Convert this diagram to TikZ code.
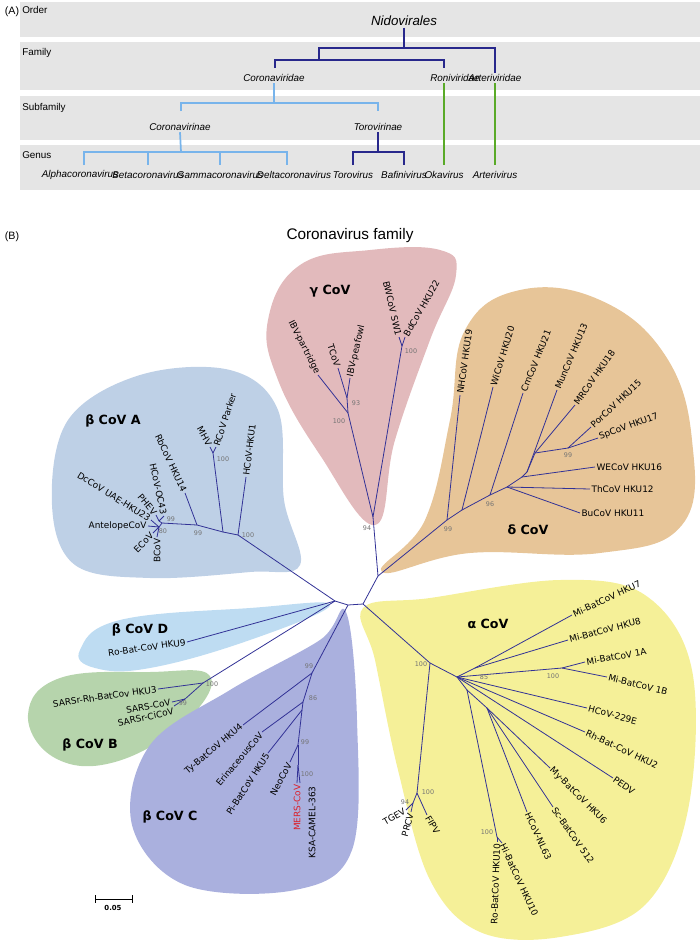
\documentclass[tikz,border=0pt]{standalone}
\usepackage{fontspec}
\usetikzlibrary{calc}
\setmainfont{Liberation Sans}
\newfontfamily\dvs{DejaVu Sans}
\begin{document}
\begin{tikzpicture}[x=0.75pt,y=-0.75pt,
 band/.style={fill=black!10,draw=none},
 dk/.style={draw={rgb,255:red,40;green,40;blue,140},line width=1.3pt},
 lb/.style={draw={rgb,255:red,120;green,180;blue,235},line width=1.3pt},
 gr/.style={draw={rgb,255:red,90;green,170;blue,40},line width=1.3pt},
 ta/.style={font=\fontsize{7.4}{8}\selectfont\itshape,inner sep=1pt},
 row/.style={font=\fontsize{7.4}{8}\selectfont,anchor=west,inner sep=0pt},
 br/.style={draw={rgb,255:red,50;green,50;blue,150},line width=0.6pt},
 lab/.style={font=\dvs\fontsize{6.7}{7}\selectfont,inner sep=1pt},
 bs/.style={font=\dvs\fontsize{4.8}{5}\selectfont,text=black!55,inner sep=0pt},
 cl/.style={font=\dvs\bfseries\fontsize{9.5}{10}\selectfont}]
\useasboundingbox (0,0) rectangle (700,947);
% ---------- (A)
\fill[band] (20,2) rectangle (700,37);
\fill[band] (20,42) rectangle (700,90);
\fill[band] (20,96) rectangle (700,140);
\fill[band] (20,145) rectangle (700,190);
\node[font=\fontsize{8}{9}\selectfont] (lA) at (12,12) {(A)};
\node[row] (rO) at (22,10) {Order};
\node[row] (rF) at (22,53) {Family};
\node[row] (rS) at (22,108) {Subfamily};
\node[row] (rG) at (22,155) {Genus};
\node[ta,font=\fontsize{10}{11}\selectfont\itshape] (nido) at (404,21) {Nidovirales};
\node[ta] (corid) at (274,78) {Coronaviridae};
\node[ta] (ronid) at (455,78) {Roniviridae};
\node[ta] (artid) at (495,78) {Arteriviridae};
\node[ta] (corin) at (180,127) {Coronavirinae};
\node[ta] (torin) at (378,127) {Torovirinae};
\node[ta] (alpha) at (80,175) {Alphacoronavirus};
\node[ta] (beta) at (148,175) {Betacoronavirus};
\node[ta] (gamma) at (220,175) {Gammacoronavirus};
\node[ta] (delta) at (294,175) {Deltacoronavirus};
\node[ta] (toro) at (353,175) {Torovirus};
\node[ta] (bafi) at (404,175) {Bafinivirus};
\node[ta] (oka) at (444,175) {Okavirus};
\node[ta] (arte) at (495,175) {Arterivirus};
\draw[dk] (nido.south) -- (404,48);
\draw[dk] (artid.north) -- (495,48) -- (319,48) -- (319,60);
\draw[dk] (275,68) -- (275,60) -- (444,60) -- (444,68);
\draw[lb] (corid.south) -- (274,103);
\draw[lb] (181,111) -- (181,103) -- (378,103) -- (378,111);
\draw[lb] (corin.south) -- (181,152);
\draw[lb] (84,165) -- (84,152) -- (287,152) -- (287,165);
\draw[lb] (148,152) -- (148,165); \draw[lb] (220,152) -- (220,165);
\draw[dk] (torin.south) -- (378,152);
\draw[dk] (353,165) -- (353,152) -- (404,152) -- (404,165);
\draw[gr] (ronid.south -| 444,0) -- (444,165);
\draw[gr] (artid.south) -- (495,165);
% ---------- (B)
\node[font=\fontsize{8}{9}\selectfont] (lB) at (12,237) {(B)};
\node[font=\fontsize{11.5}{12}\selectfont] (title) at (350,236) {Coronavirus family};
% blobs
\fill[fill={rgb,255:red,226;green,186;blue,188}] plot[smooth cycle,tension=0.7] coordinates {(375,525) (320,455) (278,380) (268,320) (300,265) (370,250) (440,250) (456,275) (430,340) (395,440)};
\fill[fill={rgb,255:red,231;green,197;blue,152}] plot[smooth cycle,tension=0.7] coordinates {(382,572) (425,520) (450,420) (465,330) (520,290) (600,300) (665,355) (692,440) (682,525) (600,553) (470,553)};
\fill[fill={rgb,255:red,190;green,208;blue,230}] plot[smooth cycle,tension=0.6] coordinates {(52,505) (68,420) (140,375) (230,370) (278,410) (284,500) (300,565) (250,572) (150,578) (75,565)};
\fill[fill={rgb,255:red,190;green,220;blue,242}] plot[smooth cycle,tension=0.7] coordinates {(80,650) (120,620) (250,608) (330,605) (250,640) (150,668) (95,668)};
\fill[fill={rgb,255:red,182;green,212;blue,172}] plot[smooth cycle,tension=0.7] coordinates {(28,715) (60,678) (150,672) (210,676) (185,722) (115,762) (55,758)};
\fill[fill={rgb,255:red,170;green,176;blue,222}] plot[smooth cycle,tension=0.6] coordinates {(346,612) (357,720) (352,850) (295,890) (185,885) (132,825) (150,745) (230,690) (320,640)};
\fill[fill={rgb,255:red,245;green,240;blue,152}] plot[smooth cycle,tension=0.6] coordinates {(363,608) (430,598) (560,580) (645,595) (692,670) (688,810) (645,905) (560,937) (480,932) (430,880) (398,770) (375,660)};
% tree coordinates
\coordinate (r1) at (335,601); \coordinate (r2) at (348,605); \coordinate (r3) at (363,604); \coordinate (gd) at (378,576);
\coordinate (g94) at (373,517); \coordinate (gA) at (348,413); \coordinate (g93) at (347,398); \coordinate (gP) at (318,375);
\coordinate (gT) at (338,368); \coordinate (gQ) at (350,378); \coordinate (gB) at (402,346); \coordinate (gBW) at (399,337); \coordinate (gBd) at (405,337);
\coordinate (d99) at (447,520); \coordinate (dNH) at (460,395); \coordinate (d2) at (462,510); \coordinate (dWi) at (493,387);
\coordinate (d96) at (490,495); \coordinate (dCm) at (523,393); \coordinate (d4) at (507,487); \coordinate (dBu) at (580,513);
\coordinate (dTh) at (590,489); \coordinate (d5) at (522,477); \coordinate (dWE) at (595,467); \coordinate (d6) at (527,472);
\coordinate (dMun) at (557,390); \coordinate (d7) at (535,453); \coordinate (dMR) at (575,405); \coordinate (d8) at (568,448);
\coordinate (dPor) at (591,427); \coordinate (dSp) at (598,438);
\coordinate (a1) at (238,535); \coordinate (aH) at (246,477); \coordinate (a2) at (223,532); \coordinate (a3) at (213,453);
\coordinate (aMHV) at (210,447); \coordinate (aRC) at (216,447); \coordinate (a99) at (197,525); \coordinate (aRb) at (185,493);
\coordinate (a4) at (162,523); \coordinate (a5) at (159,521); \coordinate (aPH) at (156,515); \coordinate (aOC) at (164,516);
\coordinate (a80) at (159,527); \coordinate (aDc) at (151,520); \coordinate (aAn) at (148,526); \coordinate (aE) at (153,533); \coordinate (aB) at (157,537);
\coordinate (bD) at (187,642); \coordinate (bb1) at (203,683); \coordinate (bH3) at (158,689); \coordinate (b99) at (185,699);
\coordinate (bS) at (172,702); \coordinate (bC) at (174,706);
\coordinate (c99) at (312,673); \coordinate (cTy) at (243,725); \coordinate (c86) at (303,702); \coordinate (cEr) at (262,732);
\coordinate (c3) at (302,710); \coordinate (cPi) at (268,753); \coordinate (c4) at (298,745); \coordinate (cNeo) at (290,762);
\coordinate (c5) at (298,765); \coordinate (cM) at (297,783); \coordinate (cK) at (300,783); \coordinate (cKt) at (312,785);
\coordinate (l1) at (430,663); \coordinate (lN) at (417,793); \coordinate (lF) at (427,815); \coordinate (l94) at (413,803);
\coordinate (lTG) at (406,810); \coordinate (lPR) at (411,812); \coordinate (l85) at (457,677); \coordinate (lm) at (475,668);
\coordinate (l7) at (572,615); \coordinate (l8) at (568,640); \coordinate (l1x) at (562,668); \coordinate (l1A) at (585,662);
\coordinate (l1B) at (607,677); \coordinate (l229) at (587,708); \coordinate (lRh) at (585,732); \coordinate (lPE) at (613,778);
\coordinate (lj) at (467,690); \coordinate (lk) at (487,708); \coordinate (lMy) at (550,768); \coordinate (lSc) at (553,807);
\coordinate (lNL) at (527,812); \coordinate (lR) at (497,837); \coordinate (lRo) at (497,842); \coordinate (lHi) at (502,843);
\foreach \u/\v in {r1/r2,r2/r3,r3/gd,gd/g94,g94/gA,gA/gP,gA/g93,g93/gT,g93/gQ,g94/gB,gB/gBW,gB/gBd,
 gd/d99,d99/dNH,d99/d2,d2/dWi,d2/d96,d96/dCm,d96/d4,d4/dBu,d4/dTh,d4/d5,d5/dWE,d5/d6,d6/dMun,d6/d7,d7/dMR,d7/d8,d8/dPor,d8/dSp,
 r1/a1,a1/aH,a1/a2,a2/a3,a3/aMHV,a3/aRC,a2/a99,a99/aRb,a99/a4,a4/a5,a5/aPH,a5/aOC,a4/a80,a80/aDc,a80/aAn,a80/aE,a80/aB,
 r1/bD,r1/bb1,bb1/bH3,bb1/b99,b99/bS,b99/bC,
 r2/c99,c99/cTy,c99/c86,c86/cEr,c86/c3,c3/cPi,c3/c4,c4/cNeo,c4/c5,c5/cM,c5/cK,
 r3/l1,l1/lN,lN/lF,lN/l94,l94/lTG,l94/lPR,l1/l85,l85/lm,lm/l7,lm/l8,l85/l1x,l1x/l1A,l1x/l1B,l85/l229,l85/lRh,l85/lPE,l85/lj,lj/lk,lk/lMy,lk/lSc,lk/lNL,lj/lR,lR/lRo,lR/lHi}
 {\draw[br] (\u) -- (\v);}
% labels gamma
\path (gP) node[lab,anchor=east,rotate=-63] (nIBVp) {IBV-partridge};
\path (gT) node[lab,anchor=east,rotate=-72] (nTCoV) {TCoV};
\path (gQ) node[lab,anchor=west,rotate=77] (nIBVq) {IBV-peafowl};
\path (gBW) node[lab,anchor=east,rotate=-77] (nBW) {BWCoV SW1};
\path (gBd) node[lab,anchor=west,rotate=60] (nBd) {BdCoV HKU22};
\node[cl] (cG) at (330,291) {γ CoV};
% delta
\path (dNH) node[lab,anchor=west,rotate=82] (nNH) {NHCoV HKU19};
\path (dWi) node[lab,anchor=west,rotate=73] (nWi) {WiCoV HKU20};
\path (dCm) node[lab,anchor=west,rotate=68] (nCm) {CmCoV HKU21};
\path (dMun) node[lab,anchor=west,rotate=67] (nMun) {MunCoV HKU13};
\path (dMR) node[lab,anchor=west,rotate=55] (nMR) {MRCoV HKU18};
\path (dPor) node[lab,anchor=west,rotate=43] (nPor) {PorCoV HKU15};
\path (dSp) node[lab,anchor=west,rotate=20] (nSp) {SpCoV HKU17};
\path (dWE) node[lab,anchor=west] (nWE) {WECoV HKU16};
\path (dTh) node[lab,anchor=west] (nTh) {ThCoV HKU12};
\path (dBu) node[lab,anchor=west] (nBu) {BuCoV HKU11};
\node[cl] (cD) at (528,530) {δ CoV};
% beta A
\path (aH) node[lab,anchor=west,rotate=83] (nH1) {HCoV-HKU1};
\path (aRC) node[lab,anchor=west,rotate=72] (nRC) {RCoV Parker};
\path (aMHV) node[lab,anchor=east,rotate=-62] (nMHV) {MHV};
\path (aRb) node[lab,anchor=east,rotate=-65] (nRb) {RbCoV HKU14};
\path (aOC) node[lab,anchor=east,rotate=-78] (nOC) {HCoV-OC43};
\path (aPH) node[lab,anchor=east,rotate=-50] (nPH) {PHEV};
\path (aDc) node[lab,anchor=east,rotate=-32] (nDc) {DcCoV UAE-HKU23};
\path (aAn) node[lab,anchor=east] (nAn) {AntelopeCoV};
\path (aE) node[lab,anchor=east,rotate=45] (nE) {ECoV};
\path (aB) node[lab,anchor=east,rotate=90] (nB) {BCoV};
\node[cl] (cA) at (113,421) {β CoV A};
% beta D / B
\path (bD) node[lab,anchor=east,rotate=8] (nH9) {Ro-Bat-CoV HKU9};
\node[cl] (cDd) at (140,630) {β CoV D};
\path (bH3) node[lab,anchor=east,rotate=8] (nH3) {SARSr-Rh-BatCov HKU3};
\path (bS) node[lab,anchor=east,rotate=10] (nS) {SARS-CoV};
\path (bC) node[lab,anchor=north east,rotate=12] (nCi) {SARSr-CiCoV};
\node[cl] (cB) at (90,745) {β CoV B};
% beta C
\path (cTy) node[lab,anchor=east,rotate=40] (nTy) {Ty-BatCoV HKU4};
\path (cEr) node[lab,anchor=east,rotate=50] (nEr) {ErinaceousCoV};
\path (cPi) node[lab,anchor=east,rotate=57] (nPi) {Pi-BatCoV HKU5};
\path (cNeo) node[lab,anchor=east,rotate=62] (nNeo) {NeoCoV};
\path (cM) node[lab,anchor=east,rotate=90,text={rgb,255:red,220;green,30;blue,40}] (nM) {MERS-CoV};
\path (cKt) node[lab,anchor=east,rotate=90] (nK) {KSA-CAMEL-363};
\node[cl] (cC) at (170,817) {β CoV C};
% alpha
\path (l7) node[lab,anchor=west,rotate=25] (n7) {Mi-BatCoV HKU7};
\path (l8) node[lab,anchor=west,rotate=15] (n8) {Mi-BatCoV HKU8};
\path (l1A) node[lab,anchor=west,rotate=10] (n1A) {Mi-BatCoV 1A};
\path (l1B) node[lab,anchor=west,rotate=-14] (n1B) {Mi-BatCoV 1B};
\path (l229) node[lab,anchor=west,rotate=-15] (n229) {HCoV-229E};
\path (lRh) node[lab,anchor=west,rotate=-25] (nRh) {Rh-Bat-CoV HKU2};
\path (lPE) node[lab,anchor=west,rotate=-35] (nPE) {PEDV};
\path (lMy) node[lab,anchor=west,rotate=-45] (nMy) {My-BatCoV HKU6};
\path (lSc) node[lab,anchor=west,rotate=-55] (nSc) {Sc-BatCoV 512};
\path (lNL) node[lab,anchor=west,rotate=-65] (nNL) {HCoV-NL63};
\path (lHi) node[lab,anchor=west,rotate=-65] (nHi) {Hi-BatCoV HKU10};
\path (lRo) node[lab,anchor=east,rotate=88] (nRo) {Ro-BatCoV HKU10};
\path (lF) node[lab,anchor=west,rotate=-60] (nFI) {FIPV};
\path (lTG) node[lab,anchor=east,rotate=30] (nTG) {TGEV};
\path (lPR) node[lab,anchor=east,rotate=75] (nPR) {PRCV};
\node[cl] (cAl) at (488,624) {α CoV};
% bootstrap
\node[bs] (s1) at (367,528) {94}; \node[bs] (s2) at (356,403) {93}; \node[bs] (s3) at (339,421) {100};
\node[bs] (s4) at (411,351) {100}; \node[bs] (s5) at (448,529) {99}; \node[bs] (s6) at (490,504) {96};
\node[bs] (s7) at (568,455) {99}; \node[bs] (s8) at (248,535) {100}; \node[bs] (s9) at (198,533) {99};
\node[bs] (s10) at (223,459) {100}; \node[bs] (s11) at (171,519) {99}; \node[bs] (s12) at (163,531) {80};
\node[bs] (s13) at (212,684) {100}; \node[bs] (s14) at (183,703) {99}; \node[bs] (s15) at (309,666) {99};
\node[bs] (s16) at (313,698) {86}; \node[bs] (s17) at (305,742) {99}; \node[bs] (s18) at (307,774) {100};
\node[bs] (s19) at (421,664) {100}; \node[bs] (s20) at (484,677) {85}; \node[bs] (s21) at (553,676) {100};
\node[bs] (s22) at (428,792) {100}; \node[bs] (s23) at (405,802) {94}; \node[bs] (s24) at (487,832) {100};
% scale bar
\coordinate (sl) at (95,899); \coordinate (sr) at (132,899);
\draw[line width=0.6pt] (sl) -- (sr) ($(sl)+(0,-4)$) -- ($(sl)+(0,4)$) ($(sr)+(0,-4)$) -- ($(sr)+(0,4)$);
\node[font=\dvs\bfseries\fontsize{5.2}{6}\selectfont] (sc) at (113,908) {0.05};
\end{tikzpicture}
\end{document}
